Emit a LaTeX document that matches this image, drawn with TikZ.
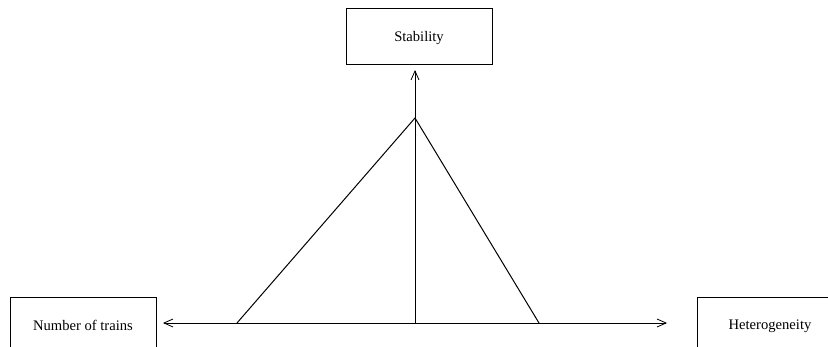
\documentclass[tikz,border=0pt]{standalone}
\usepackage{fontspec}
\setmainfont{Liberation Serif}
\usetikzlibrary{positioning}
\usetikzlibrary{arrows.meta}

\begin{document}
\begin{tikzpicture}[x=1pt,y=-1pt]

          \tikzstyle{boxNode} = [draw, line width=0.8pt, minimum width=146pt, minimum height=56pt, inner sep=0pt, text depth=0pt, font=\fontsize{14.6}{17}\selectfont];
          \tikzstyle{axisEdge} = [line width=0.8pt, >={Straight Barb[length=9pt,width=8pt]}];
          \tikzstyle{triEdge} = [line width=1pt];

          \useasboundingbox (0,0) rectangle (828,347);
          \clip (0,0) rectangle (828,347);

          \node[boxNode] (stab) at (419,36) {Stability};
          \node[boxNode] (trains) at (83,325) {Number of trains};
          \node[boxNode] (hetero) at (770,325) {Heterogeneity};

          \coordinate (origin) at (415,323);
          \coordinate (apex) at (415,118);
          \coordinate (lfoot) at (237,323);
          \coordinate (rfoot) at (539,323);
          \coordinate (ltip) at (163,323);
          \coordinate (rtip) at (667,323);
          \coordinate (utip) at (415,70);

          \draw[axisEdge, <->] (ltip) -- (rtip);
          \draw[axisEdge, ->] (origin) -- (utip);
          \draw[triEdge] (lfoot) -- (apex) -- (rfoot);
        \end{tikzpicture}
\end{document}
